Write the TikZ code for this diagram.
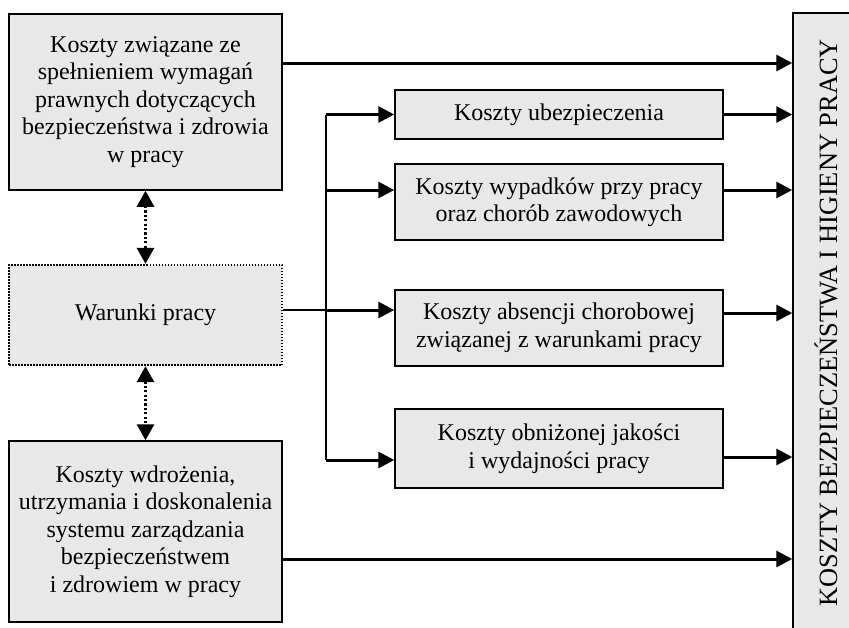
\documentclass[tikz,border=0pt]{standalone}
\usepackage{fontspec}
\setmainfont{Liberation Serif}
\usetikzlibrary{arrows.meta}
\definecolor{boxgray}{RGB}{232,232,232}
\begin{document}
\begin{tikzpicture}[x=1pt,y=-1pt,
  font=\fontsize{24}{27.5}\selectfont,
  box/.style={draw=black, line width=1.5pt, fill=boxgray, align=center, inner sep=0pt},
  dotbox/.style={box, dash pattern=on 1.5pt off 1.5pt, line width=2.4pt},
  arr/.style={line width=3pt, -{Triangle[length=16pt,width=16pt]}},
  darr/.style={line width=3pt, dash pattern=on 2.2pt off 2.2pt,
    {Triangle[length=16pt,width=17pt]}-{Triangle[length=16pt,width=17pt]}},
  vline/.style={line width=2pt},
  thinline/.style={line width=1.3pt}]
\useasboundingbox (0,0) rectangle (849,627);
\clip (0,0) rectangle (849,627);

% left column
\node[box, minimum width=273, minimum height=176] (A) at (145.5,102)
  {Koszty związane ze\\spełnieniem wymagań\\prawnych dotyczących\\bezpieczeństwa i zdrowia\\w pracy};
\node[dotbox, minimum width=273, minimum height=100] (W) at (145.5,315) {Warunki pracy};
\node[box, minimum width=273, minimum height=181] (C) at (145.5,531.5)
  {Koszty wdrożenia,\\utrzymania i doskonalenia\\systemu zarządzania\\bezpieczeństwem\\i zdrowiem w pracy};

% middle column
\node[box, minimum width=328, minimum height=49] (B1) at (559,114.5) {Koszty ubezpieczenia};
\node[box, minimum width=328, minimum height=76] (B2) at (559,202)
  {Koszty wypadków przy pracy\\oraz chorób zawodowych};
\node[box, minimum width=328, minimum height=76] (B3) at (559,328)
  {Koszty absencji chorobowej\\związanej z warunkami pracy};
\node[box, minimum width=328, minimum height=79] (B4) at (559,448.5)
  {Koszty obniżonej jakości\\i wydajności pracy};

% right box
\node[box, rotate=90, minimum width=620, minimum height=66,
  font=\fontsize{26.4}{30}\selectfont] (R) at (826,323)
  {KOSZTY BEZPIECZEŃSTWA I HIGIENY PRACY};

% junction line
\coordinate (J) at (326,0);
\draw[vline] (J |- B1.west) -- ([yshift=-11.5pt]B4.west -| J);

% dotted double arrows
\draw[darr] (A.south) -- (W.north);
\draw[darr] (W.south) -- (C.north);

% Warunki to junction and to B3
\draw[thinline] ([yshift=5pt]W.east) -- ([yshift=5pt]W.east -| J);
\draw[arr] ([yshift=5pt]W.east -| J) -- ([yshift=5pt]W.east -| B3.west);

% junction to boxes
\draw[arr] (J |- B1.west) -- (B1.west);
\draw[arr] ([yshift=12pt]B2.west -| J) -- ([yshift=12pt]B2.west);
\draw[arr] ([yshift=-11.5pt]B4.west -| J) -- ([yshift=-11.5pt]B4.west);

% to the right box
\draw[arr] ([yshift=39pt]A.east) -- ([yshift=39pt]A.east -| R.north);
\draw[arr] (B1.east) -- (B1.east -| R.north);
\draw[arr] ([yshift=12pt]B2.east) -- ([yshift=12pt]B2.east -| R.north);
\draw[arr] ([yshift=15pt]B3.east) -- ([yshift=15pt]B3.east -| R.north);
\draw[arr] ([yshift=-8.5pt]B4.east) -- ([yshift=-8.5pt]B4.east -| R.north);
\draw[arr] ([yshift=-27.5pt]C.east) -- ([yshift=-27.5pt]C.east -| R.north);
\end{tikzpicture}
\end{document}
